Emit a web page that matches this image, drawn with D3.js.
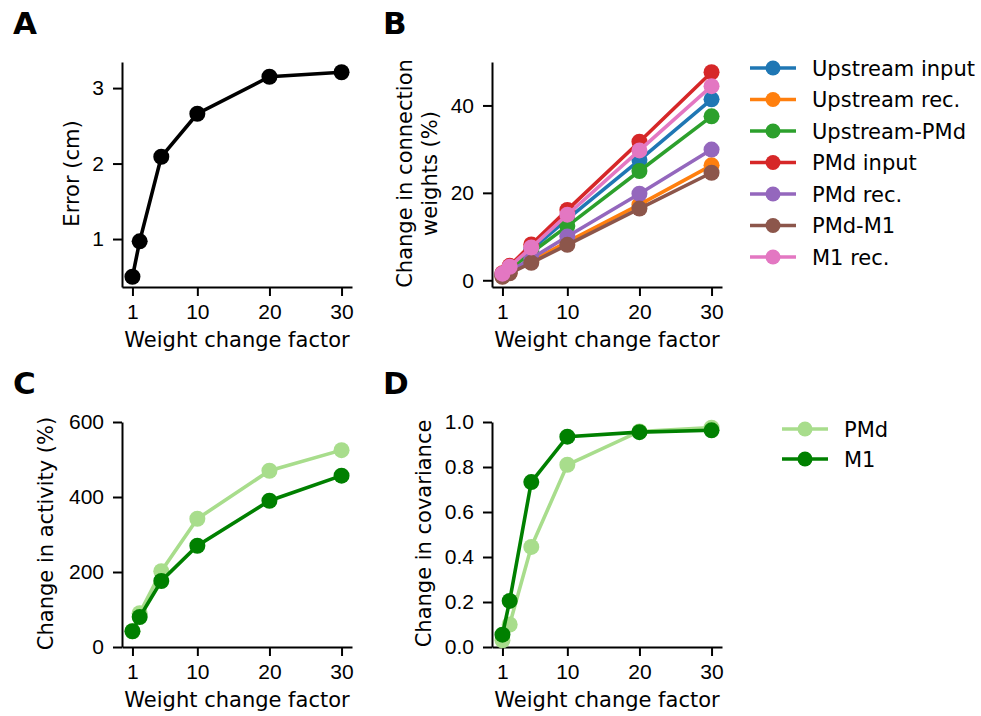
<!DOCTYPE html>
<html>
<head>
<meta charset="utf-8">
<script src="https://cdn.jsdelivr.net/npm/d3@7"></script>
<style>
  body { margin: 0; background: #fff; }
  svg { display: block; font-family: 'DejaVu Sans', sans-serif; }
  .axis text { font-size: 21px; fill: #000; }
  .axis path, .axis line { stroke: #000; stroke-width: 2; }
</style>
</head>
<body>
<svg class="canvas" width="981" height="716"></svg>
<script>
'use strict';

// x values shared by all panels
const factors = [1, 2, 5, 10, 20, 30];
const xTicks = [1, 10, 20, 30];

// A
const errorCm = [0.5, 0.97, 2.09, 2.66, 3.15, 3.21];

// B
const weightNames = ['Upstream input', 'Upstream rec.', 'Upstream-PMd', 'PMd input', 'PMd rec.', 'PMd-M1', 'M1 rec.'];
const weightColors = ['#1f77b4', '#ff7f0e', '#2ca02c', '#d62728', '#9467bd', '#8c564b', '#e377c2'];
const weightValues = [
  [1.4, 2.8, 7.0, 14.0, 27.5, 41.4],
  [0.9, 1.8, 4.4, 8.8, 17.3, 26.3],
  [1.25, 2.5, 6.3, 12.4, 25.0, 37.5],
  [1.6, 3.3, 8.2, 16.1, 31.7, 47.6],
  [1.0, 2.0, 5.0, 10.0, 19.8, 29.9],
  [0.8, 1.6, 4.0, 8.1, 16.4, 24.6],
  [1.5, 3.1, 7.5, 15.0, 29.7, 44.4]
];

// C & D
const areaNames = ['PMd', 'M1'];
const areaColors = ['#a8dd8c', '#008000'];
const activity = [
  [42, 90, 202, 342, 470, 525],
  [42, 80, 176, 270, 390, 457]
];
const covariance = [
  [0.03, 0.10, 0.445, 0.81, 0.958, 0.975],
  [0.055, 0.205, 0.733, 0.935, 0.955, 0.963]
];

const svg = d3.select('.canvas');

// matplotlib style 5% margins
function padded(lo, hi) {
  const m = (hi - lo) * 0.05;
  return [lo - m, hi + m];
}

function panel(opts) {
  const { left, top, letter, yDomain, yTicks, yFormat, ylabel, ylabelX } = opts;
  const w = 230, h = 225;
  const g = svg.append('g');
  const x = d3.scaleLinear(padded(1, 30), [left, left + w]);
  const y = d3.scaleLinear(yDomain, [top + h, top]);

  g.append('g')
    .attr('class', 'axis')
    .attr('transform', `translate(0,${top + h})`)
    .call(d3.axisBottom(x).tickValues(xTicks).tickSize(9).tickSizeOuter(0).tickPadding(8));
  g.append('g')
    .attr('class', 'axis')
    .attr('transform', `translate(${left},0)`)
    .call(d3.axisLeft(y).tickValues(yTicks).tickFormat(yFormat || d3.format('d')).tickSize(9).tickSizeOuter(0).tickPadding(9));

  g.append('text')
    .attr('x', left + w / 2)
    .attr('y', top + h + 60)
    .attr('text-anchor', 'middle')
    .attr('font-size', 21)
    .text('Weight change factor');

  const lines = Array.isArray(ylabel) ? ylabel : [ylabel];
  lines.forEach((t, i) => {
    g.append('text')
      .attr('transform', `translate(${ylabelX + i * 25},${top + h / 2 - 1}) rotate(-90)`)
      .attr('text-anchor', 'middle')
      .attr('font-size', 21)
      .text(t);
  });

  g.append('text')
    .attr('x', left - 109)
    .attr('y', top - 28.5)
    .attr('font-size', 31)
    .attr('font-weight', 'bold')
    .text(letter);

  return { g, x, y };
}

function drawSeries(p, values, color) {
  const line = d3.line().x((d, i) => p.x(factors[i])).y(d => p.y(d));
  p.g.append('path')
    .attr('d', line(values))
    .attr('fill', 'none')
    .attr('stroke', color)
    .attr('stroke-width', 3.6);
  p.g.selectAll(null)
    .data(values)
    .enter()
    .append('circle')
    .attr('cx', (d, i) => p.x(factors[i]))
    .attr('cy', d => p.y(d))
    .attr('r', 8)
    .attr('fill', color);
}

function legend(x0, y0, step, names, colors) {
  names.forEach((n, i) => {
    const yy = y0 + i * step;
    svg.append('line')
      .attr('x1', x0).attr('x2', x0 + 46)
      .attr('y1', yy).attr('y2', yy)
      .attr('stroke', colors[i]).attr('stroke-width', 3.6);
    svg.append('circle')
      .attr('cx', x0 + 23).attr('cy', yy).attr('r', 7.5)
      .attr('fill', colors[i]);
    svg.append('text')
      .attr('x', x0 + 62).attr('y', yy + 7.5)
      .attr('font-size', 21)
      .text(n);
  });
}

// A
const pA = panel({
  left: 122, top: 62, letter: 'A',
  yDomain: padded(0.5, 3.21), yTicks: [1, 2, 3],
  ylabel: 'Error (cm)', ylabelX: 79
});
drawSeries(pA, errorCm, '#000');

// B
const pB = panel({
  left: 492, top: 62, letter: 'B',
  yDomain: padded(0.8, 47.6), yTicks: [0, 20, 40],
  ylabel: ['Change in connection', 'weights (%)'], ylabelX: 411.5
});
weightValues.forEach((v, i) => drawSeries(pB, v, weightColors[i]));
legend(750, 68, 31.5, weightNames, weightColors);

// C
const pC = panel({
  left: 122, top: 422, letter: 'C',
  yDomain: [0, 600], yTicks: [0, 200, 400, 600],
  ylabel: 'Change in activity (%)', ylabelX: 52.5
});
activity.forEach((v, i) => drawSeries(pC, v, areaColors[i]));

// D
const pD = panel({
  left: 492, top: 422, letter: 'D',
  yDomain: [0, 1], yTicks: [0, 0.2, 0.4, 0.6, 0.8, 1.0], yFormat: d3.format('.1f'),
  ylabel: 'Change in covariance', ylabelX: 431
});
covariance.forEach((v, i) => drawSeries(pD, v, areaColors[i]));
legend(782, 429, 30, areaNames, areaColors);
</script>
</body>
</html>
